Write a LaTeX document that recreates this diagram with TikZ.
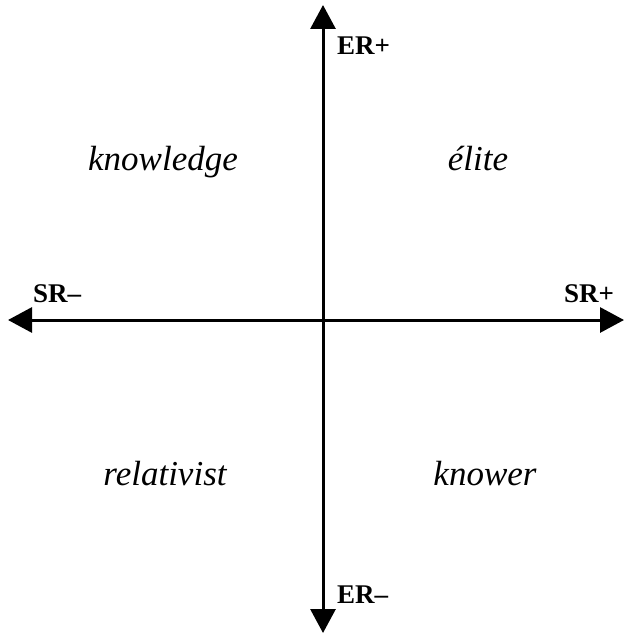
\documentclass[tikz,border=0pt]{standalone}
\usepackage{fontspec}
\setmainfont{Liberation Serif}
\usetikzlibrary{arrows.meta}
\begin{document}
\begin{tikzpicture}[x=1pt,y=-1pt,
  axis/.style={line width=3pt,-{Triangle[width=25pt,length=24pt]}},
  axlabel/.style={inner sep=0pt,anchor=base west,font=\fontsize{27}{30}\selectfont\bfseries},
  quad/.style={inner sep=0pt,anchor=base,font=\fontsize{35}{40}\selectfont\itshape}]
\useasboundingbox[fill=white] (0,0) rectangle (626,634);
\coordinate (o) at (323,320);
\coordinate (top) at (323,5);
\coordinate (bot) at (323,633);
\coordinate (lft) at (8,320);
\coordinate (rgt) at (624,320);
\draw[axis] (o) -- (top);
\draw[axis] (o) -- (bot);
\draw[axis] (o) -- (lft);
\draw[axis] (o) -- (rgt);
\node[axlabel] (erp) at (337,55) {ER+};
\node[axlabel] (erm) at (337,603) {ER–};
\node[axlabel] (srm) at (33,302) {SR–};
\node[axlabel] (srp) at (564,302) {SR+};
\node[quad] (kn) at (163,170) {knowledge};
\node[quad] (el) at (478,170) {élite};
\node[quad] (re) at (165,485) {relativist};
\node[quad] (kw) at (485,485) {knower};
\end{tikzpicture}
\end{document}
